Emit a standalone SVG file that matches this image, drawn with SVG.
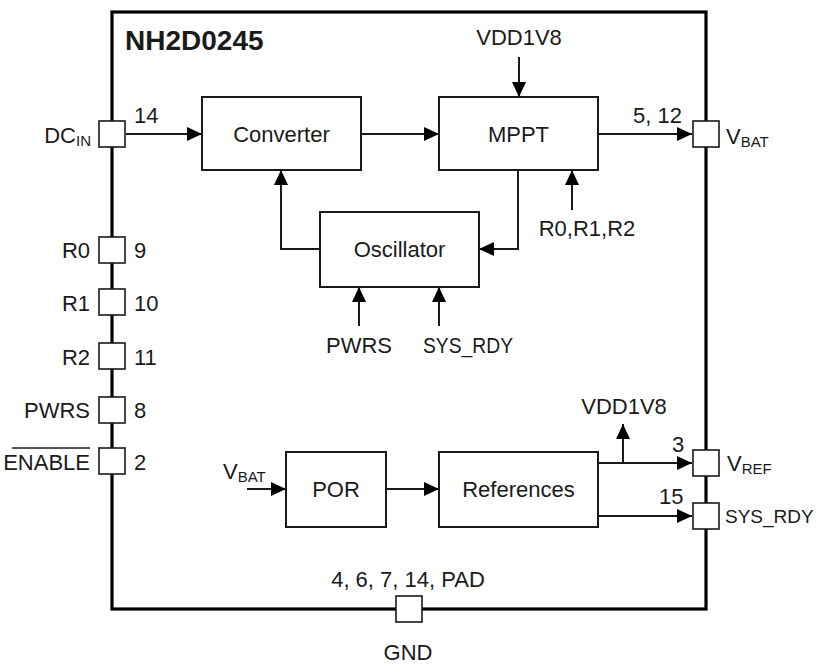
<svg xmlns="http://www.w3.org/2000/svg" width="820" height="664" viewBox="0 0 820 664">
<style>
text{font-family:"Liberation Sans",Arial,sans-serif;font-size:22px;fill:#1a1a1a}
.t{font-weight:bold;font-size:28px}
.m{text-anchor:middle}
.e{text-anchor:end}
.s{font-size:15px}
.n{font-size:19px}
.blk{fill:#fff;stroke:#1a1a1a;stroke-width:2}
.pin{fill:#fff;stroke:#1a1a1a;stroke-width:1.6}
.chip{fill:none;stroke:#000;stroke-width:3.2}
.w{fill:none;stroke:#1a1a1a;stroke-width:2}
</style>
<defs>
<marker id="a" markerUnits="userSpaceOnUse" markerWidth="16" markerHeight="14" refX="15" refY="7" orient="auto">
<path d="M0,0 L15,7 L0,14 z" fill="#000"/>
</marker>
</defs>
<rect width="820" height="664" fill="#fff"/>
<g id="chip">
<rect class="chip" x="112" y="12" width="594" height="597"/>
<text class="t" x="125" y="50">NH2D0245</text>
</g>
<g id="connectors">
<line class="w" x1="126" y1="134" x2="202" y2="134" marker-end="url(#a)"/>
<line class="w" x1="361" y1="134" x2="439" y2="134" marker-end="url(#a)"/>
<line class="w" x1="598" y1="134" x2="692" y2="134" marker-end="url(#a)"/>
<line class="w" x1="519" y1="57" x2="519" y2="97" marker-end="url(#a)"/>
<polyline class="w" points="518,170 518,249 479,249" marker-end="url(#a)"/>
<line class="w" x1="572" y1="210" x2="572" y2="170" marker-end="url(#a)"/>
<polyline class="w" points="320,249 281,249 281,170" marker-end="url(#a)"/>
<line class="w" x1="359" y1="326" x2="359" y2="287" marker-end="url(#a)"/>
<line class="w" x1="439" y1="326" x2="439" y2="287" marker-end="url(#a)"/>
<line class="w" x1="247" y1="489" x2="286" y2="489" marker-end="url(#a)"/>
<line class="w" x1="386" y1="489" x2="439" y2="489" marker-end="url(#a)"/>
<line class="w" x1="598" y1="463" x2="692" y2="463" marker-end="url(#a)"/>
<line class="w" x1="623" y1="463" x2="623" y2="424" marker-end="url(#a)"/>
<line class="w" x1="598" y1="516" x2="692" y2="516" marker-end="url(#a)"/>
</g>
<g id="converter">
<rect class="blk" x="202" y="97" width="159" height="73"/>
<text class="m" x="281.5" y="142">Converter</text>
</g>
<g id="mppt">
<rect class="blk" x="439" y="97" width="159" height="73"/>
<text class="m" x="518.5" y="142">MPPT</text>
</g>
<g id="oscillator">
<rect class="blk" x="320" y="212" width="159" height="75"/>
<text class="m" x="399.5" y="257">Oscillator</text>
</g>
<g id="por">
<rect class="blk" x="286" y="452" width="100" height="75"/>
<text class="m" x="336" y="497">POR</text>
</g>
<g id="references">
<rect class="blk" x="439" y="452" width="159" height="75"/>
<text class="m" x="518.5" y="497">References</text>
</g>
<g id="labels">
<text class="m" x="519" y="45">VDD1V8</text>
<text x="134" y="123">14</text>
<text x="633" y="123">5, 12</text>
<text class="m" x="587" y="236">R0,R1,R2</text>
<text class="m" x="359" y="353">PWRS</text>
<text x="423" y="353" textLength="90" lengthAdjust="spacingAndGlyphs">SYS_RDY</text>
<text x="223" y="479">V<tspan class="s" dy="3">BAT</tspan></text>
<text class="m" x="624" y="414">VDD1V8</text>
<text x="672" y="452">3</text>
<text x="659" y="504">15</text>
<text class="m" x="408" y="587">4, 6, 7, 14, PAD</text>
</g>
<g id="pin-dcin">
<rect class="pin" x="99" y="121" width="26" height="26"/>
<text class="e" x="91" y="143">DC<tspan class="s" dy="3">IN</tspan></text>
</g>
<g id="pin-vbat">
<rect class="pin" x="693" y="121" width="26" height="26"/>
<text x="726" y="144">V<tspan class="s" dy="3">BAT</tspan></text>
</g>
<g id="pin-r0">
<rect class="pin" x="99" y="237" width="26" height="26"/>
<text class="e" x="90" y="258">R0</text>
<text x="134" y="258">9</text>
</g>
<g id="pin-r1">
<rect class="pin" x="99" y="289" width="26" height="26"/>
<text class="e" x="90" y="311">R1</text>
<text x="134" y="311">10</text>
</g>
<g id="pin-r2">
<rect class="pin" x="99" y="343" width="26" height="26"/>
<text class="e" x="90" y="365">R2</text>
<text x="134" y="365">11</text>
</g>
<g id="pin-pwrs">
<rect class="pin" x="99" y="397" width="26" height="26"/>
<text class="e" x="90" y="418">PWRS</text>
<text x="134" y="418">8</text>
</g>
<g id="pin-enable">
<rect class="pin" x="99" y="448" width="26" height="26"/>
<text class="e" x="90" y="470">ENABLE</text>
<line x1="12" y1="448" x2="90" y2="448" stroke="#1a1a1a" stroke-width="1.5"/>
<text x="134" y="470">2</text>
</g>
<g id="pin-vref">
<rect class="pin" x="693" y="450" width="26" height="26"/>
<text x="727" y="471">V<tspan class="s" dy="3">REF</tspan></text>
</g>
<g id="pin-sysrdy">
<rect class="pin" x="693" y="503" width="26" height="26"/>
<text class="n" x="725" y="523">SYS_RDY</text>
</g>
<g id="pin-gnd">
<rect class="pin" x="396" y="596" width="26" height="26"/>
<text class="m" x="408" y="660">GND</text>
</g>
</svg>
